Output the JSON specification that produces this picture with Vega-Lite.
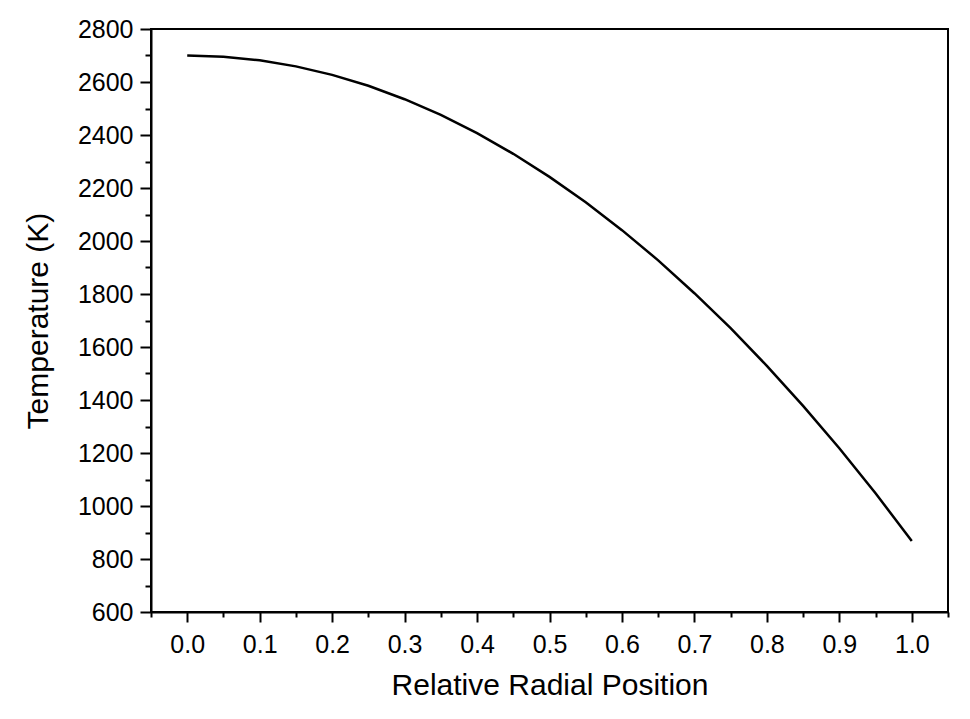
{
  "$schema": "https://vega.github.io/schema/vega-lite/v6.json",
  "autosize": "none",
  "width": 797,
  "height": 583,
  "padding": {"left": 151, "top": 29, "right": 22, "bottom": 107},
  "background": "white",
  "config": {
    "view": {"stroke": "black", "strokeWidth": 2},
    "font": "Liberation Sans",
    "axis": {
      "labelFont": "Liberation Sans",
      "titleFont": "Liberation Sans",
      "labelColor": "black",
      "titleColor": "black",
      "tickColor": "black",
      "domainColor": "black",
      "domainWidth": 2,
      "tickWidth": 2,
      "grid": false,
      "labelFontSize": 25,
      "titleFontSize": 30,
      "titleFontWeight": "normal"
    }
  },
  "data": {
    "values": [
      {"r": 0.0, "T": 2700},
      {"r": 0.05, "T": 2695},
      {"r": 0.1, "T": 2682},
      {"r": 0.15, "T": 2659},
      {"r": 0.2, "T": 2627},
      {"r": 0.25, "T": 2586},
      {"r": 0.3, "T": 2535},
      {"r": 0.35, "T": 2476},
      {"r": 0.4, "T": 2407},
      {"r": 0.45, "T": 2329},
      {"r": 0.5, "T": 2242},
      {"r": 0.55, "T": 2146},
      {"r": 0.6, "T": 2041},
      {"r": 0.65, "T": 1927},
      {"r": 0.7, "T": 1803},
      {"r": 0.75, "T": 1671},
      {"r": 0.8, "T": 1529},
      {"r": 0.85, "T": 1378},
      {"r": 0.9, "T": 1218},
      {"r": 0.95, "T": 1048},
      {"r": 1.0, "T": 868}
    ]
  },
  "mark": {"type": "line", "color": "black", "strokeWidth": 2.5, "clip": true},
  "encoding": {
    "x": {
      "field": "r",
      "type": "quantitative",
      "scale": {"domain": [-0.05, 1.05], "nice": false, "zero": false},
      "axis": {
        "title": "Relative Radial Position",
        "values": [-0.05, 0, 0.05, 0.1, 0.15, 0.2, 0.25, 0.3, 0.35, 0.4, 0.45, 0.5, 0.55, 0.6, 0.65, 0.7, 0.75, 0.8, 0.85, 0.9, 0.95, 1.0, 1.05],
        "labelExpr": "round(datum.value*20) % 2 == 0 ? format(datum.value, '.1f') : ''",
        "tickSize": {"condition": {"test": "round(datum.value*20) % 2 == 0", "value": 10}, "value": 5},
        "labelPadding": 10,
        "titlePadding": 13,
        "labelFlush": false,
        "labelOverlap": false
      }
    },
    "y": {
      "field": "T",
      "type": "quantitative",
      "scale": {"domain": [600, 2800], "nice": false, "zero": false},
      "axis": {
        "title": "Temperature (K)",
        "values": [600, 700, 800, 900, 1000, 1100, 1200, 1300, 1400, 1500, 1600, 1700, 1800, 1900, 2000, 2100, 2200, 2300, 2400, 2500, 2600, 2700, 2800],
        "labelExpr": "datum.value % 200 == 0 ? format(datum.value, 'd') : ''",
        "tickSize": {"condition": {"test": "datum.value % 200 == 0", "value": 11}, "value": 6},
        "labelPadding": 7,
        "titlePadding": 24,
        "labelFlush": false,
        "labelOverlap": false
      }
    }
  }
}
